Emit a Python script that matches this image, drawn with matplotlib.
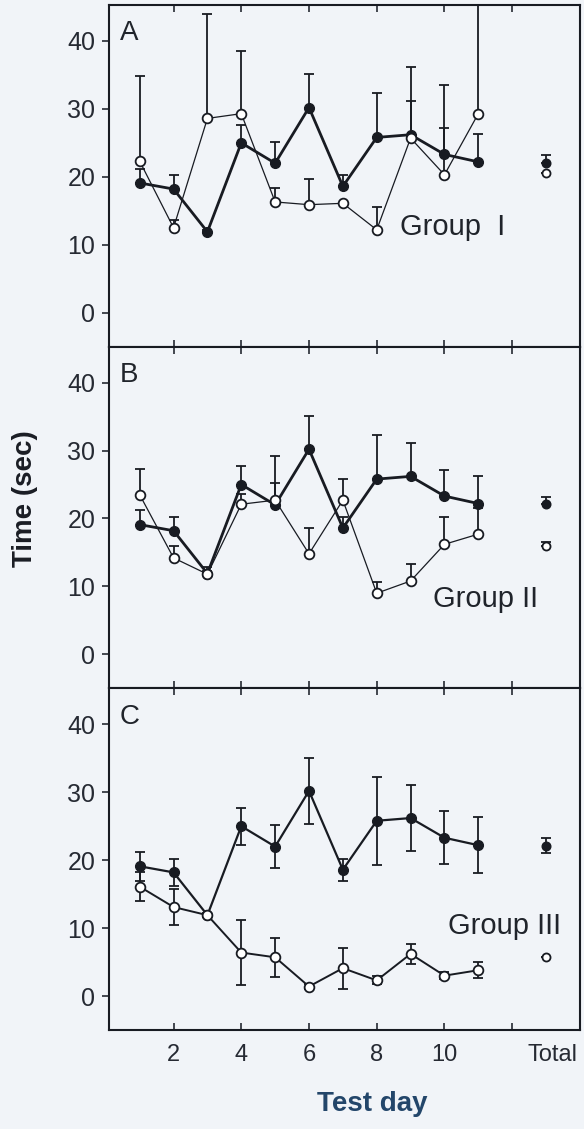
import matplotlib
matplotlib.use("Agg")
import matplotlib.pyplot as plt
import numpy as np

plt.rcParams["font.family"] = ["Liberation Sans", "DejaVu Sans"]

# test days 1-11, plus the "Total" column placed at position 13
days = np.arange(1, 12)
total_pos = 13

# control (filled circles), same animals shown in every panel
ctrl_mean = [19.1, 18.2, 11.9, 25.0, 22.0, 30.2, 18.6, 25.8, 26.2, 23.3, 22.2]
ctrl_err = [2.1, 2.0, 0.3, 2.7, 3.2, 4.9, 1.6, 6.5, 4.9, 3.9, 4.1]
ctrl_total, ctrl_total_err = 22.1, 1.1

# group I (open circles)
g1_mean = [22.3, 12.5, 28.6, 29.3, 16.3, 15.9, 16.1, 12.2, 25.7, 20.3, 29.3]
g1_err = [12.5, 1.2, 15.4, 9.2, 2.0, 3.8, 0.0, 3.4, 10.4, 13.2, 18.0]
g1_total, g1_total_err = 20.6, 0.0

# group II
g2_mean = [23.5, 14.2, 11.8, 22.1, 22.7, 14.8, 22.7, 9.0, 10.8, 16.2, 17.7]
g2_err = [3.8, 1.7, 1.0, 1.5, 6.5, 3.8, 3.1, 1.7, 2.5, 4.0, 3.9]
g2_total, g2_total_err = 16.0, 0.5

# group III
g3_mean = [16.1, 13.1, 11.9, 6.4, 5.7, 1.4, 4.1, 2.3, 6.2, 3.0, 3.8]
g3_err = [2.1, 2.6, 0.0, 4.8, 2.9, 0.3, 3.0, 0.6, 1.5, 0.5, 1.2]
g3_total, g3_total_err = 5.8, 0.0

panels = [
    ("A", "Group  I", g1_mean, g1_err, g1_total, g1_total_err, False, (8.7, 11.5)),
    ("B", "Group II", g2_mean, g2_err, g2_total, g2_total_err, False, (9.65, 6.9)),
    ("C", "Group III", g3_mean, g3_err, g3_total, g3_total_err, True, (10.1, 9.1)),
]

bg = "#f1f4f8"
ink = "#181b22"

fig, axes = plt.subplots(3, 1, figsize=(5.84, 11.29), dpi=100, sharex=True,
                         facecolor=bg)
fig.subplots_adjust(left=0.187, right=0.993, top=0.9956, bottom=0.0877, hspace=0)


def yerr_of(err, both):
    err = np.asarray(err, dtype=float)
    return [err, err] if both else [np.zeros_like(err), err]


for ax, (letter, name, mean, err, tot, tot_err, both, txt) in zip(axes, panels):
    ax.set_facecolor(bg)
    ctrl_lw = 1.6 if both else 2.0
    open_lw = 1.4 if both else 0.9

    # control group
    ax.plot(days, ctrl_mean, color=ink, lw=ctrl_lw, zorder=2)
    ax.errorbar(days, ctrl_mean, yerr=yerr_of(ctrl_err, both), fmt="o",
                color=ink, ms=7, mfc=ink, mec=ink, elinewidth=1.3,
                capsize=3.8, capthick=1.3, zorder=3)
    ax.errorbar([total_pos], [ctrl_total], yerr=yerr_of([ctrl_total_err], both),
                fmt="o", color=ink, ms=6.2, mfc=ink, mec=ink, elinewidth=1.3,
                capsize=3.8, capthick=1.3, zorder=3)

    # treated group
    ax.plot(days, mean, color=ink, lw=open_lw, zorder=4)
    ax.errorbar(days, mean, yerr=yerr_of(err, both), fmt="o", color=ink,
                ms=7, mfc="white", mec=ink, mew=1.3, elinewidth=1.3,
                capsize=3.8, capthick=1.3, zorder=5)
    ax.errorbar([total_pos], [tot], yerr=yerr_of([tot_err], both), fmt="o",
                color=ink, ms=5.8, mfc="white", mec=ink, mew=1.3,
                elinewidth=1.3, capsize=3.8, capthick=1.3, zorder=5)

    ax.set_xlim(0.1, 14.0)
    ax.set_ylim(-5, 45.3)
    ax.set_yticks([0, 10, 20, 30, 40])
    ax.tick_params(axis="y", direction="out", length=5, width=1.2, pad=5,
                   labelsize=18, colors="#262a33")
    ax.tick_params(axis="x", which="major", direction="in", length=5, width=1.2,
                   top=True, labelsize=17, colors="#262a33", pad=10)
    for sp in ax.spines.values():
        sp.set_linewidth(1.5)
        sp.set_color(ink)

    ax.text(0.022, 0.955, letter, transform=ax.transAxes, fontsize=20,
            color="#20242b", ha="left", va="top")
    ax.text(txt[0], txt[1], name, fontsize=21, color="#20242b",
            ha="left", va="baseline")

axes[-1].set_xticks([2, 4, 6, 8, 10, 12], ["2", "4", "6", "8", "10", ""])
axes[-1].set_xticks([13.2], ["Total"], minor=True)
axes[-1].tick_params(axis="x", which="minor", length=0, labelsize=17,
                     colors="#262a33", pad=10)

fig.text(0.043, 0.558, "Time (sec)", rotation=90, ha="center", va="center",
         fontsize=20, fontweight="bold", color="#1a1d24")
fig.text(0.637, 0.022, "Test day", ha="center", va="center", fontsize=20,
         fontweight="bold", color="#23466a")

fig.savefig("out.png", dpi=100, facecolor=bg)
